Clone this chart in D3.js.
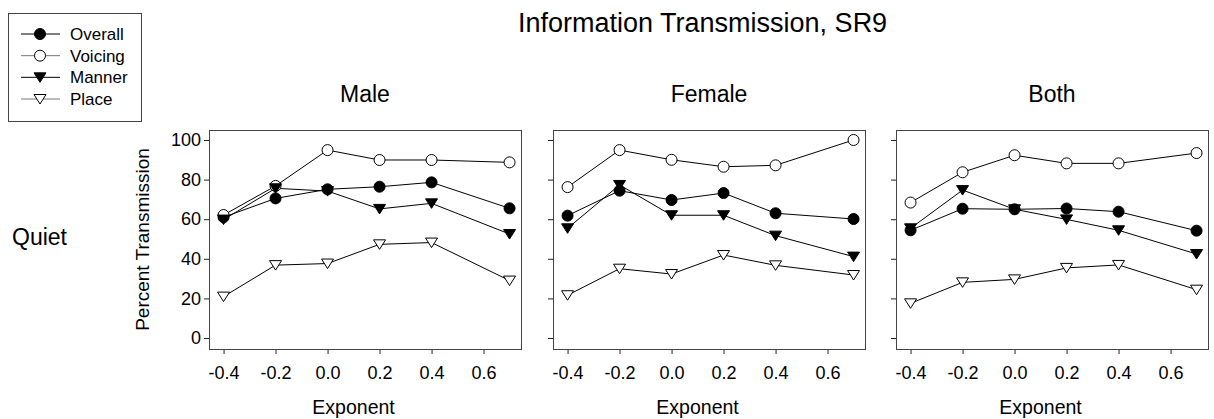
<!DOCTYPE html>
<html>
<head>
	<title>Information Transmission, SR9</title>
	<script src="https://d3js.org/d3.v7.min.js"></script>
	<style type="text/css">
		*
		{
			margin:0;
			padding:0;
		}
		body
		{
			background:#fff;
			font-family: "Liberation Sans", Arial, sans-serif;
		}
		.frame
		{
			fill:none;
			stroke:#444;
			stroke-width:1;
		}
		.axis path
		{
			display:none;
		}
		.axis line
		{
			stroke:#222;
		}
		.axis text
		{
			font-family: "Liberation Sans", Arial, sans-serif;
			font-size:18px;
			fill:#000;
		}
	</style>
</head>
<body>
	<div id="chart"></div>
	<script>
		// values
		const exponents = [-0.4, -0.2, 0.0, 0.2, 0.4, 0.7];
		const xTicks = [-0.4, -0.2, 0.0, 0.2, 0.4, 0.6];
		const yTicks = [0, 20, 40, 60, 80, 100];
		const panelNames = ["Male", "Female", "Both"];
		const seriesNames = ["Overall", "Voicing", "Manner", "Place"];

		const maleOverall = [61.0, 70.5, 75.1, 76.4, 78.6, 65.5];
		const maleVoicing = [62.1, 76.8, 94.9, 89.9, 89.9, 88.7];
		const maleManner  = [59.8, 75.6, 74.2, 65.2, 68.0, 52.5];
		const malePlace   = [20.9, 36.8, 37.6, 47.3, 48.2, 29.0];

		const femaleOverall = [61.8, 74.4, 69.7, 73.2, 63.0, 60.1];
		const femaleVoicing = [76.2, 94.9, 90.0, 86.5, 87.2, 100.0];
		const femaleManner  = [55.4, 77.3, 62.0, 62.0, 51.7, 41.1];
		const femalePlace   = [21.6, 35.0, 32.3, 41.9, 36.7, 31.8];

		const bothOverall = [54.4, 65.3, 65.0, 65.4, 63.8, 54.2];
		const bothVoicing = [68.4, 83.7, 92.3, 88.2, 88.2, 93.4];
		const bothManner  = [55.4, 74.7, 65.0, 59.9, 54.4, 42.4];
		const bothPlace   = [17.5, 28.1, 29.6, 35.4, 36.9, 24.4];

		const panelData = [
			[maleOverall, maleVoicing, maleManner, malePlace],
			[femaleOverall, femaleVoicing, femaleManner, femalePlace],
			[bothOverall, bothVoicing, bothManner, bothPlace]
		];

		const width = 1214;
		const height = 419;
		const panelLeft = [209, 553, 896];
		const panelWidth = 312;
		const panelTop = 130;
		const panelHeight = 219;

		const svg = d3.select("#chart").append("svg")
			.attr("width", width)
			.attr("height", height);

		// marker shapes: filled / open circle, filled / open down triangle
		const markerFill = ["#000", "#fff", "#000", "#fff"];
		const markerIsTri = [false, false, true, true];
		const triPath = "M-6,-4.5L6,-4.5L0,5Z";

		function drawMarker(g, i, x, y) {
			if(markerIsTri[i]) {
				g.append("path")
					.attr("d", triPath)
					.attr("transform", "translate(" + x + "," + y + ")")
					.attr("fill", markerFill[i])
					.attr("stroke", "#000")
					.attr("stroke-width", 1);
			} else {
				g.append("circle")
					.attr("cx", x)
					.attr("cy", y)
					.attr("r", 5.5)
					.attr("fill", markerFill[i])
					.attr("stroke", "#000")
					.attr("stroke-width", 1);
			}
		}

		const xScale = d3.scaleLinear().domain([-0.456, 0.744]).range([0, panelWidth]);
		const yScale = d3.scaleLinear().domain([-5.56, 105.05]).range([panelHeight, 0]);

		panelNames.forEach((name, p) => {
			const g = svg.append("g")
				.attr("transform", "translate(" + panelLeft[p] + "," + panelTop + ")");

			g.append("g")
				.attr("class", "axis")
				.attr("transform", "translate(0," + panelHeight + ")")
				.call(d3.axisBottom(xScale).tickValues(xTicks).tickSize(5).tickPadding(12).tickFormat(d3.format(".1f")))
				.selectAll("text").text(d => d3.format(".1f")(d).replace("−", "-"));

			const yAxis = g.append("g")
				.attr("class", "axis")
				.call(d3.axisLeft(yScale).tickValues(yTicks).tickSize(5).tickPadding(3));
			if(p > 0) yAxis.selectAll("text").remove();

			g.append("rect")
				.attr("class", "frame")
				.attr("x", 0.5)
				.attr("y", 0.5)
				.attr("width", panelWidth)
				.attr("height", panelHeight);

			const line = d3.line()
				.x((d, i) => xScale(exponents[i]))
				.y(d => yScale(d));

			panelData[p].forEach(series => {
				g.append("path")
					.attr("d", line(series))
					.attr("fill", "none")
					.attr("stroke", "#000")
					.attr("stroke-width", 1);
			});

			panelData[p].forEach((series, s) => {
				series.forEach((v, i) => drawMarker(g, s, xScale(exponents[i]), yScale(v)));
			});

			g.append("text")
				.attr("x", panelWidth / 2)
				.attr("y", 102 - panelTop)
				.attr("text-anchor", "middle")
				.style("font-size", "23px")
				.text(name);

			g.append("text")
				.attr("x", xScale(0.1))
				.attr("y", 414 - panelTop)
				.attr("text-anchor", "middle")
				.style("font-size", "19.5px")
				.text("Exponent");
		});

		// y axis title
		svg.append("text")
			.attr("transform", "translate(149," + (panelTop + panelHeight / 2) + ") rotate(-90)")
			.attr("text-anchor", "middle")
			.style("font-size", "19px")
			.text("Percent Transmission");

		svg.append("text")
			.attr("x", 12)
			.attr("y", 245)
			.style("font-size", "23px")
			.text("Quiet");

		svg.append("text")
			.attr("x", 518)
			.attr("y", 32)
			.style("font-size", "27px")
			.text("Information Transmission, SR9");

		// legend
		const legend = svg.append("g");
		legend.append("rect")
			.attr("class", "frame")
			.attr("x", 8.5)
			.attr("y", 13.5)
			.attr("width", 133)
			.attr("height", 108);

		const legendLineColor = ["#000", "#777", "#000", "#777"];
		const rowY = d3.scalePoint().domain(seriesNames).range([34, 99]);
		seriesNames.forEach((n, i) => {
			const y = rowY(n);
			legend.append("line")
				.attr("x1", 21).attr("x2", 60)
				.attr("y1", y).attr("y2", y)
				.attr("stroke", legendLineColor[i])
				.attr("stroke-width", 1);
			drawMarker(legend, i, 40, y);
			legend.append("text")
				.attr("x", 70)
				.attr("y", y + 6)
				.style("font-size", "17px")
				.text(n);
		});
	</script>
</body>
</html>
